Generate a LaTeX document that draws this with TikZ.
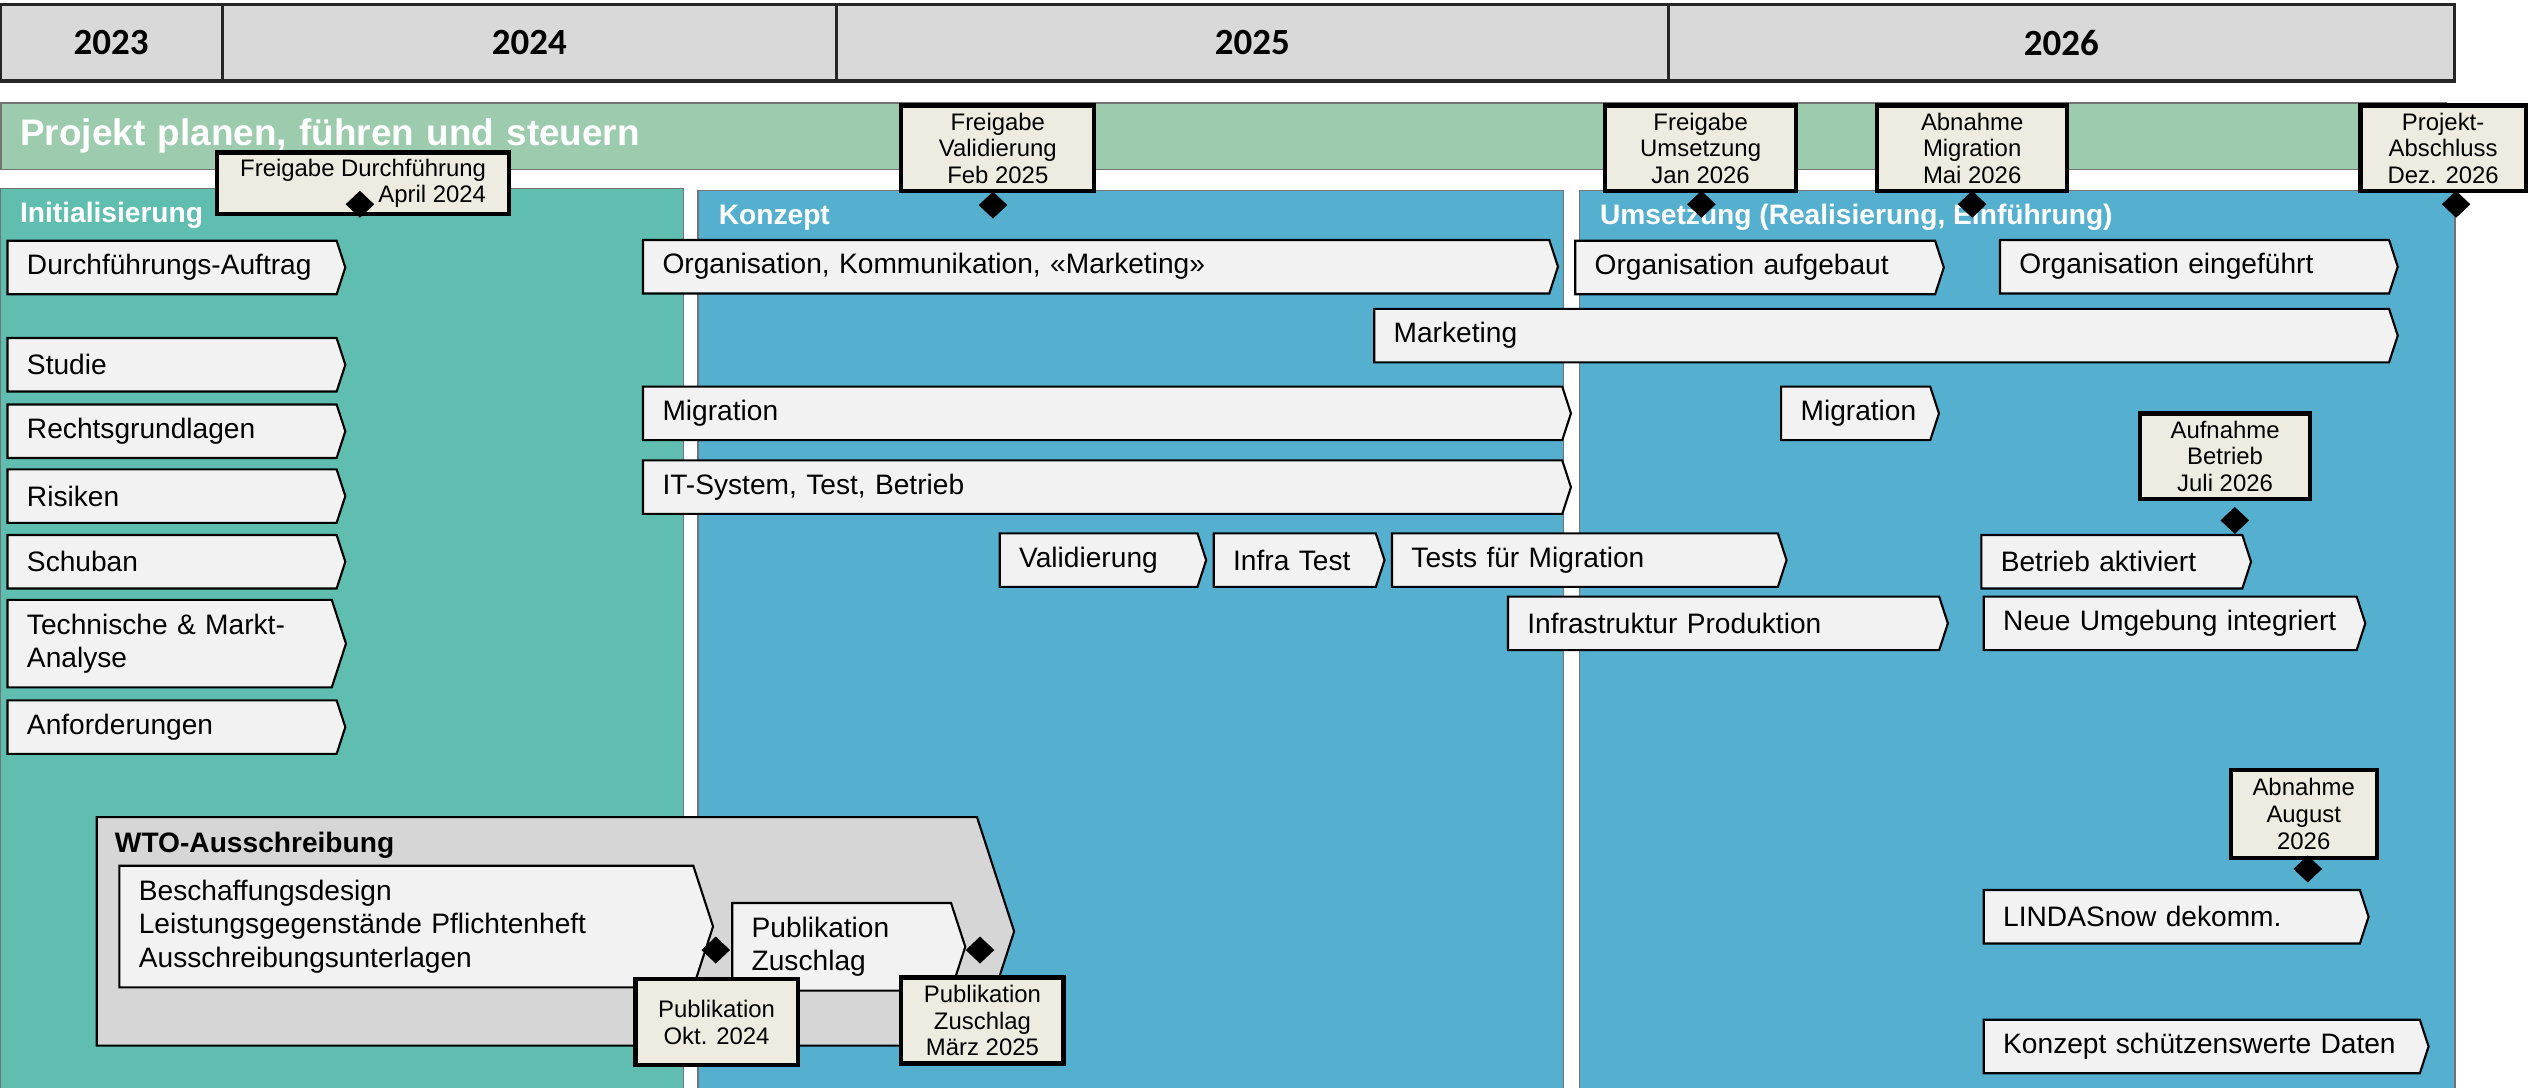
\documentclass[tikz,border=0pt]{standalone}
\usepackage{fontspec}
\setmainfont{Liberation Sans}
\newfontfamily\yearfont{Carlito}
\usepackage{tikz}
\usetikzlibrary{shapes.symbols, shapes.geometric}
\newlength{\gunit}
\setlength{\gunit}{0.016212cm}
\definecolor{yeargray}{HTML}{D9D9D9}
\definecolor{bandgreen}{HTML}{9DCBAE}
\definecolor{initgreen}{HTML}{60BEB0}
\definecolor{konzblue}{HTML}{55AFCF}
\definecolor{barfill}{HTML}{F2F2F2}
\definecolor{msfill}{HTML}{EEECE1}
\definecolor{wtogray}{HTML}{D6D6D6}
\tikzset{
    yr/.style={draw=black!85, line width=0.9pt, fill=yeargray, minimum height=47\gunit, anchor=west, inner sep=0, outer sep=0, font=\yearfont\bfseries\fontsize{10.5}{12}\selectfont}, % year cells
    band/.style={draw=black!55, line width=0.5pt, fill=bandgreen, anchor=north west, minimum height=41\gunit, inner xsep=12\gunit, align=left, text=white, font=\bfseries\fontsize{10.5}{12}\selectfont},
    phasebox/.style={draw=black!55, line width=0.4pt, anchor=north west, inner sep=0, minimum height=554\gunit}, % phase panels
    phasetitle/.style={anchor=base west, inner sep=0, text=white, font=\bfseries\fontsize{8}{9.5}\selectfont},
    bar/.style={draw, line width=0.6pt, fill=barfill, signal, signal to=east, signal pointer angle=144, anchor=west, align=left, inner xsep=12\gunit, inner ysep=1pt, minimum height=33\gunit, font=\fontsize{8}{9.5}\selectfont}, % work packages
    wto/.style={style=bar, fill=wtogray}, % grouping arrow
    ms/.style={draw, line width=1.2pt, fill=msfill, align=center, inner sep=0, font=\fontsize{6.8}{7.6}\selectfont}, % milestone box
    md/.style={diamond, fill=black, inner sep=0, minimum width=18\gunit, minimum height=17\gunit} % milestone mark
}

\begin{document}
\begin{tikzpicture}[x=0.016212cm, y=-0.016212cm]
    \fill[white] (0,0) rectangle (1568,671);
    \useasboundingbox (0,0) rectangle (1568,671);

    % years
    \node[yr, minimum width=137\gunit] (y23) at (0,26.5) {2023};
    \node[yr, minimum width=379\gunit] (y24) at (137,26.5) {2024};
    \node[yr, minimum width=513\gunit] (y25) at (516,26.5) {2025};
    \node[yr, minimum width=485\gunit] (y26) at (1029,26.5) {2026};

    \node[band, text width=1484\gunit] (plan) at (0,63) {Projekt planen, führen und steuern};

    % phases
    \node[phasebox, fill=initgreen, minimum width=421\gunit, minimum height=555\gunit] (pInit) at (0,116) {};
    \node[phasebox, fill=konzblue, minimum width=534\gunit] (pKonz) at (430,117) {};
    \node[phasebox, fill=konzblue, minimum width=540\gunit] (pUms) at (974,117) {};
    \node[phasetitle] (tInit) at (12,137.5) {Initialisierung};
    \node[phasetitle] (tKonz) at (443,138.5) {Konzept};
    \node[phasetitle] (tUms) at (986.5,138.5) {Umsetzung (Realisierung, Einführung)};

    % Initialisierung
    \node[bar, text width=179\gunit] (bDurch) at (4,165) {Durchführungs-Auftrag};
    \node[bar, text width=179\gunit] (bStud) at (4,225) {Studie};
    \node[bar, text width=179\gunit] (bRecht) at (4,266) {Rechtsgrundlagen};
    \node[bar, text width=179\gunit] (bRisk) at (4,306) {Risiken};
    \node[bar, text width=179\gunit] (bSchub) at (4,346.5) {Schuban};
    \node[bar, minimum height=54\gunit, text width=176\gunit] (bTech) at (4,397) {Technische \& Markt-\\Analyse};
    \node[bar, text width=179\gunit] (bAnf) at (4,448.5) {Anforderungen};

    % Konzept
    \node[bar, text width=535\gunit] (bOrgK) at (396,164.5) {Organisation, Kommunikation, «Marketing»};
    \node[bar, text width=602\gunit] (bMark) at (847,207) {Marketing};
    \node[bar, text width=543\gunit] (bMigK) at (396,255) {Migration};
    \node[bar, text width=543\gunit] (bIT) at (396,300.5) {IT-System, Test, Betrieb};
    \node[bar, text width=98\gunit] (bVal) at (616,345.5) {Validierung};
    \node[bar, text width=76\gunit] (bInfT) at (748,345.5) {Infra Test};
    \node[bar, text width=214\gunit] (bTestM) at (858,345.5) {Tests für Migration};
    \node[bar, text width=242\gunit] (bInfP) at (929.5,384.5) {Infrastruktur Produktion};

    % Umsetzung
    \node[bar, text width=198\gunit] (bOrgA) at (971,165) {Organisation aufgebaut};
    \node[bar, text width=216\gunit] (bOrgE) at (1233,164.5) {Organisation eingeführt};
    \node[bar, text width=68\gunit] (bMigU) at (1098,255) {Migration};
    \node[bar, text width=137\gunit] (bBetr) at (1221.5,346.5) {Betrieb aktiviert};
    \node[bar, text width=206\gunit] (bNeue) at (1223,384.5) {Neue Umgebung integriert};
    \node[bar, text width=208\gunit] (bLinda) at (1223,565.5) {LINDASnow dekomm.};
    \node[bar, text width=245\gunit] (bKonzD) at (1223,645.5) {Konzept schützenswerte Daten};

    % WTO
    \node[wto, minimum height=141\gunit, text width=519\gunit] (wto) at (59,574.5) {};
    \node[anchor=base west, inner sep=0, font=\bfseries\fontsize{8}{9.5}\selectfont] (tWto) at (70.5,526) {WTO-Ausschreibung};
    \node[bar, minimum height=75\gunit, text width=330\gunit] (bBesch) at (73,571.5) {Beschaffungsdesign\\Leistungsgegenstände Pflichtenheft\\Ausschreibungsunterlagen};
    \node[bar, minimum height=54\gunit, text width=111\gunit] (bPubZ) at (451,584) {Publikation\\Zuschlag};

    % milestones
    \node[ms, minimum width=180\gunit, minimum height=38\gunit, align=right] (msDurch) at (224,113) {Freigabe Durchführung\\April 2024};
    \node[ms, minimum width=119\gunit, minimum height=53\gunit] (msValid) at (615.5,91.5) {Freigabe\\Validierung\\Feb 2025};
    \node[ms, minimum width=118\gunit, minimum height=53\gunit] (msUms) at (1049,91.5) {Freigabe\\Umsetzung\\Jan 2026};
    \node[ms, minimum width=117\gunit, minimum height=53\gunit] (msMig) at (1216.5,91.5) {Abnahme\\Migration\\Mai 2026};
    \node[ms, minimum width=102\gunit, minimum height=53\gunit] (msEnd) at (1507,91.5) {Projekt-\\Abschluss\\Dez. 2026};
    \node[ms, minimum width=105\gunit, minimum height=53\gunit] (msBetr) at (1372.5,281.5) {Aufnahme\\Betrieb\\Juli 2026};
    \node[ms, minimum width=90\gunit, minimum height=54\gunit] (msAug) at (1421,502) {Abnahme\\August\\2026};
    \node[ms, minimum width=100\gunit, minimum height=53\gunit] (msPubl) at (442,630.5) {Publikation\\Okt. 2024};
    \node[ms, minimum width=100\gunit, minimum height=53\gunit] (msZus) at (606,629.5) {Publikation\\Zuschlag\\März 2025};

    \node[md] (dDurch) at (222,126) {};
    \node[md] (dValid) at (612.5,126.5) {};
    \node[md] (dUms) at (1049.5,126) {};
    \node[md] (dMig) at (1216.5,126) {};
    \node[md] (dEnd) at (1515,126) {};
    \node[md] (dBetr) at (1378.5,321) {};
    \node[md] (dAug) at (1423.5,536) {};
    \node[md] (dPubl) at (441.5,586) {};
    \node[md] (dZus) at (604.5,586) {};
\end{tikzpicture}
\end{document}
